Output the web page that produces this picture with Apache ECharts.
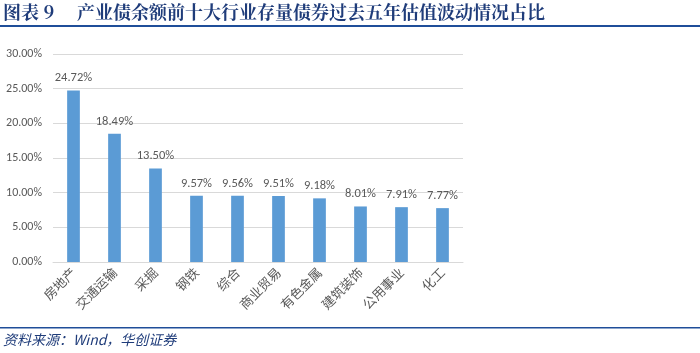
<!DOCTYPE html>
<html>
<head>
<meta charset="utf-8">
<script src="https://cdn.jsdelivr.net/npm/echarts@6/dist/echarts.min.js"></script>
<style>
  html, body { margin: 0; padding: 0; background: #fff; }
  #chart { width: 700px; height: 353px; }
</style>
</head>
<body>
<div id="chart"></div>
<script>
const industries = ['房地产', '交通运输', '采掘', '钢铁', '综合', '商业贸易', '有色金属', '建筑装饰', '公用事业', '化工'];
const shares = [24.72, 18.49, 13.50, 9.57, 9.56, 9.51, 9.18, 8.01, 7.91, 7.77];

const chart = echarts.init(document.getElementById('chart'));
const navy = '#1F3C7A';
const grey = '#595959';

chart.setOption({
  animation: false,
  textStyle: { fontFamily: 'Calibri, "Liberation Sans", "Noto Sans CJK SC", sans-serif' },
  grid: { left: 53, right: 237, top: 54, bottom: 91 },
  // title bar and source note
  graphic: [
    { type: 'text', left: 3, top: 3, style: { text: '图表 9', fontSize: 18, fontWeight: 'bold', fill: navy, fontFamily: '"Noto Serif CJK SC", "Noto Sans CJK SC", serif' } },
    { type: 'text', left: 77, top: 3, style: { text: '产业债余额前十大行业存量债券过去五年估值波动情况占比', fontSize: 18, fontWeight: 'bold', fill: navy, fontFamily: '"Noto Serif CJK SC", "Noto Sans CJK SC", serif' } },
    { type: 'rect', shape: { x: 0, y: 25, width: 700, height: 2 }, style: { fill: '#1F4E99' } },
    { type: 'rect', shape: { x: 0, y: 327, width: 700, height: 1.5 }, style: { fill: '#1F4E99' } },
    { type: 'text', left: 3, top: 333, style: { text: '资料来源：Wind，华创证券', fontSize: 14, fontStyle: 'italic', fill: navy, fontFamily: '"Noto Sans CJK SC", serif' } }
  ],
  xAxis: {
    type: 'category',
    data: industries,
    axisLine: { lineStyle: { color: '#D9D9D9' } },
    axisTick: { show: false },
    axisLabel: { rotate: 45, color: grey, fontSize: 13, margin: 8, fontFamily: '"Noto Sans CJK SC", sans-serif' }
  },
  yAxis: {
    type: 'value',
    min: 0,
    max: 30,
    interval: 5,
    axisLine: { show: false },
    axisTick: { show: false },
    splitLine: { lineStyle: { color: '#D9D9D9' } },
    axisLabel: { color: grey, fontSize: 12, margin: 11, formatter: v => v.toFixed(2) + '%' }
  },
  series: [{
    type: 'bar',
    data: shares,
    barWidth: '31%',
    itemStyle: { color: '#5B9BD5' },
    label: { show: true, position: 'top', distance: 6, color: grey, fontSize: 12.5, formatter: p => p.value.toFixed(2) + '%' }
  }]
});
</script>
</body>
</html>
